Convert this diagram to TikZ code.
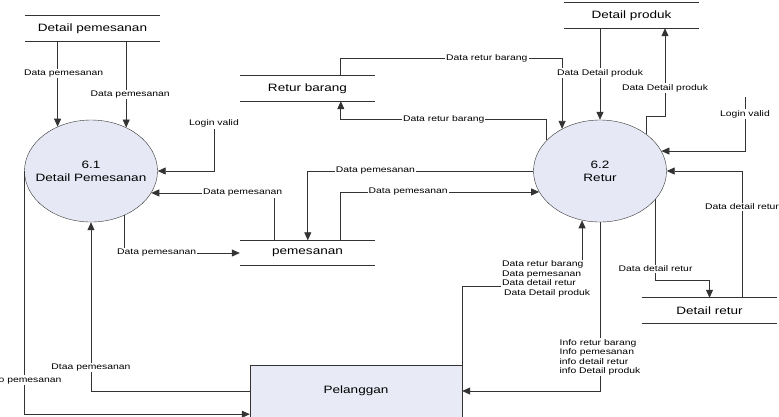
\documentclass[tikz,border=0pt]{standalone}
\usepackage{fontspec}
\setmainfont{Liberation Sans}[FakeStretch=1.27]
\usetikzlibrary{shapes.geometric, arrows.meta, calc}
\definecolor{procfill}{HTML}{E6E9F5}
\definecolor{entfill}{HTML}{E8EAF6}
\definecolor{dfdline}{HTML}{333333}
\newcommand{\dfdsmall}{\fontsize{8.2}{9.6}\selectfont}
\newcommand{\dfdbig}{\fontsize{10.7}{13}\selectfont}

\begin{document}
\begin{tikzpicture}[x=1bp, y=-1bp, >={Triangle[length=8bp,width=7bp]},
    proc/.style={ellipse, draw=dfdline, fill=procfill, minimum width=133bp,
      minimum height=102bp, inner xsep=-9bp, inner ysep=0pt, align=center, font=\dfdbig},
    store/.style={minimum width=135bp, minimum height=25bp, inner sep=0pt, font=\dfdbig},
    ent/.style={rectangle, draw=dfdline, fill=entfill, minimum width=212bp,
      minimum height=52bp, font=\dfdbig},
    flow/.style={draw=dfdline, line width=0.8bp, ->},
    lbl/.style={fill=white, inner sep=1bp, font=\dfdsmall, align=left}]

  \useasboundingbox (0,0) rectangle (779,416);
  \clip (0,0) rectangle (779,416);

  % processes
  \node[proc] (p61) at (91,171) {6.1\\Detail Pemesanan};
  \node[proc] (p62) at (600,171) {6.2\\Retur};

  % data stores
  \node[store] (dpem) at (92.5,28.5) {Detail pemesanan};
  \node[store] (rb) at (307.5,88.5) {Retur barang};
  \node[store] (pem) at (307.5,253) {pemesanan};
  \node[store] (dprod) at (631.5,15.5) {Detail produk};
  \node[store] (dret) at (709.5,310.5) {Detail retur};
  \foreach \s in {dpem, rb, pem, dprod, dret}
    \draw[dfdline, line width=0.8bp] (\s.north west) -- (\s.north east)
      (\s.south west) -- (\s.south east);

  % external entity
  \node[ent] (pel) at (356,391) {Pelanggan};

  \coordinate (lv1) at (214,129);
  \coordinate (lv2) at (745,97);

  % flows of 6.1
  \draw[flow] (p61.127 |- dpem.south) -- node[lbl, pos=0.38, xshift=6bp] {Data pemesanan} (p61.127);
  \draw[flow] (p61.51 |- dpem.south) -- node[lbl, pos=0.62, xshift=4bp] {Data pemesanan} (p61.51);
  \draw[flow] (lv1) node[lbl, above] {Login valid} |- (p61.east);
  \draw[flow] ([xshift=35bp]pem.north west) |- node[lbl, pos=0.63] {Data pemesanan} (p61.-20);
  \draw[flow] (p61.-53) |- node[lbl, pos=0.64] {Data pemesanan} (pem.west);
  \draw[flow] (pel.west) -| node[lbl, pos=0.57] {Dtaa pemesanan} (p61.south);
  \draw[flow] (p61.west) |- node[lbl, pos=0.43] {Info pemesanan} ([yshift=3bp]pel.south west);

  % flows of 6.2
  \draw[flow] (p62.west) -| node[lbl, pos=0.35] {Data pemesanan} ([xshift=68bp]pem.north west);
  \draw[flow] ([xshift=101bp]pem.north west) |- node[lbl, pos=0.67] {Data pemesanan} (p62.199);
  \draw[flow] ([xshift=101bp]rb.north west) -- ++(0,-17) -| node[lbl, pos=0.33] {Data retur barang} (p62.132);
  \draw[flow] (p62.150) -- ++(0,-21) -| node[lbl, pos=0.25] {Data retur barang} ([xshift=101bp]rb.south west);
  \draw[flow] (dprod.south -| p62.north) -- node[lbl, pos=0.49] {Data Detail produk} (p62.north);
  \draw[flow] (p62.38) -- ++(0,-18) -| node[lbl, pos=0.66] {Data Detail produk} ([xshift=33.5bp]dprod.south);
  \draw[flow] (lv2) |- node[lbl, pos=0.16] {Login valid} (p62.18);
  \draw[flow] ([xshift=32.5bp]dret.north) |- node[lbl, pos=0.36] {Data detail retur} (p62.east);
  \draw[flow] (p62.-27) -- node[lbl, pos=0.86] {Data detail retur} ++(0,81) -| (dret.north);
  \draw[flow] (pel.north east) -- ++(0,-78) -| node[lbl, pos=0.35, yshift=8bp]
    {Data retur barang\\Data pemesanan\\Data detail retur\\\hspace{2bp}Data Detail produk} (p62.250);
  \draw[flow] (p62.south) |- node[lbl, pos=0.4]
    {Info retur barang\\Info pemesanan\\info detail retur\\info Detail produk} (pel.east);
\end{tikzpicture}
\end{document}
